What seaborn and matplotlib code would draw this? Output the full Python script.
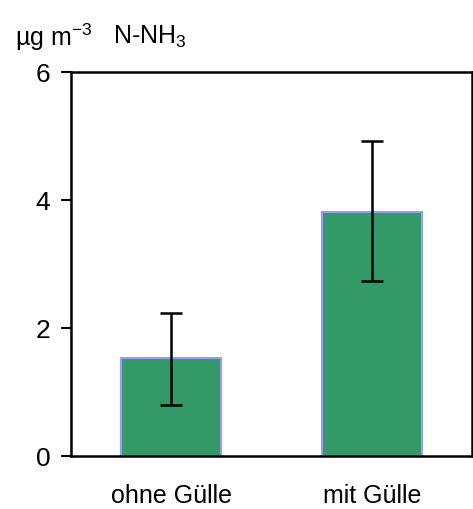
import matplotlib
matplotlib.use("Agg")
import matplotlib.pyplot as plt
import seaborn as sns
import numpy as np
import pandas as pd

# values
categories = ["ohne Gülle", "mit Gülle"]
means = [1.53, 3.81]
err_low = [0.73, 1.08]
err_high = [0.70, 1.11]

df = pd.DataFrame({"Behandlung": categories, "NH3": means})

sns.set_style("white")
plt.rcParams["font.family"] = ["Liberation Sans", "DejaVu Sans"]
plt.rcParams["text.color"] = "black"
plt.rcParams["xtick.color"] = "black"
plt.rcParams["ytick.color"] = "black"
plt.rcParams["mathtext.fontset"] = "custom"
plt.rcParams["mathtext.rm"] = "Liberation Sans"
plt.rcParams["mathtext.default"] = "regular"

fig = plt.figure(figsize=(4.73, 5.09), dpi=100)
ax = fig.add_axes([71 / 473, 53 / 509, 401 / 473, 384 / 509])

sns.barplot(data=df, x="Behandlung", y="NH3", color="#339966", saturation=1,
            width=0.5, edgecolor="#9999ff", linewidth=1.5, errorbar=None, ax=ax)
ax.errorbar(np.arange(len(categories)), means, yerr=[err_low, err_high],
            fmt="none", ecolor="black", elinewidth=1.8, capsize=8, capthick=1.8)

ax.set_xlim(-0.5, 1.5)
ax.set_ylim(0, 6)
ax.set_yticks([0, 2, 4, 6])
ax.set_xlabel("")
ax.set_ylabel("")
for s in ax.spines.values():
    s.set_visible(True)
    s.set_color("black")
    s.set_linewidth(1.8)
ax.tick_params(axis="y", direction="out", length=7, width=1.5, left=True,
               labelsize=19, pad=8)
ax.tick_params(axis="x", length=0, labelsize=18, pad=20)

fig.text(15 / 473, 1 - 37 / 509, r"µg m$^{-3}$", fontsize=18,
         va="center", ha="left")
fig.text(113 / 473, 1 - 37 / 509, r"N-NH$_3$", fontsize=18,
         va="center", ha="left")

fig.savefig("out.png", dpi=100)
